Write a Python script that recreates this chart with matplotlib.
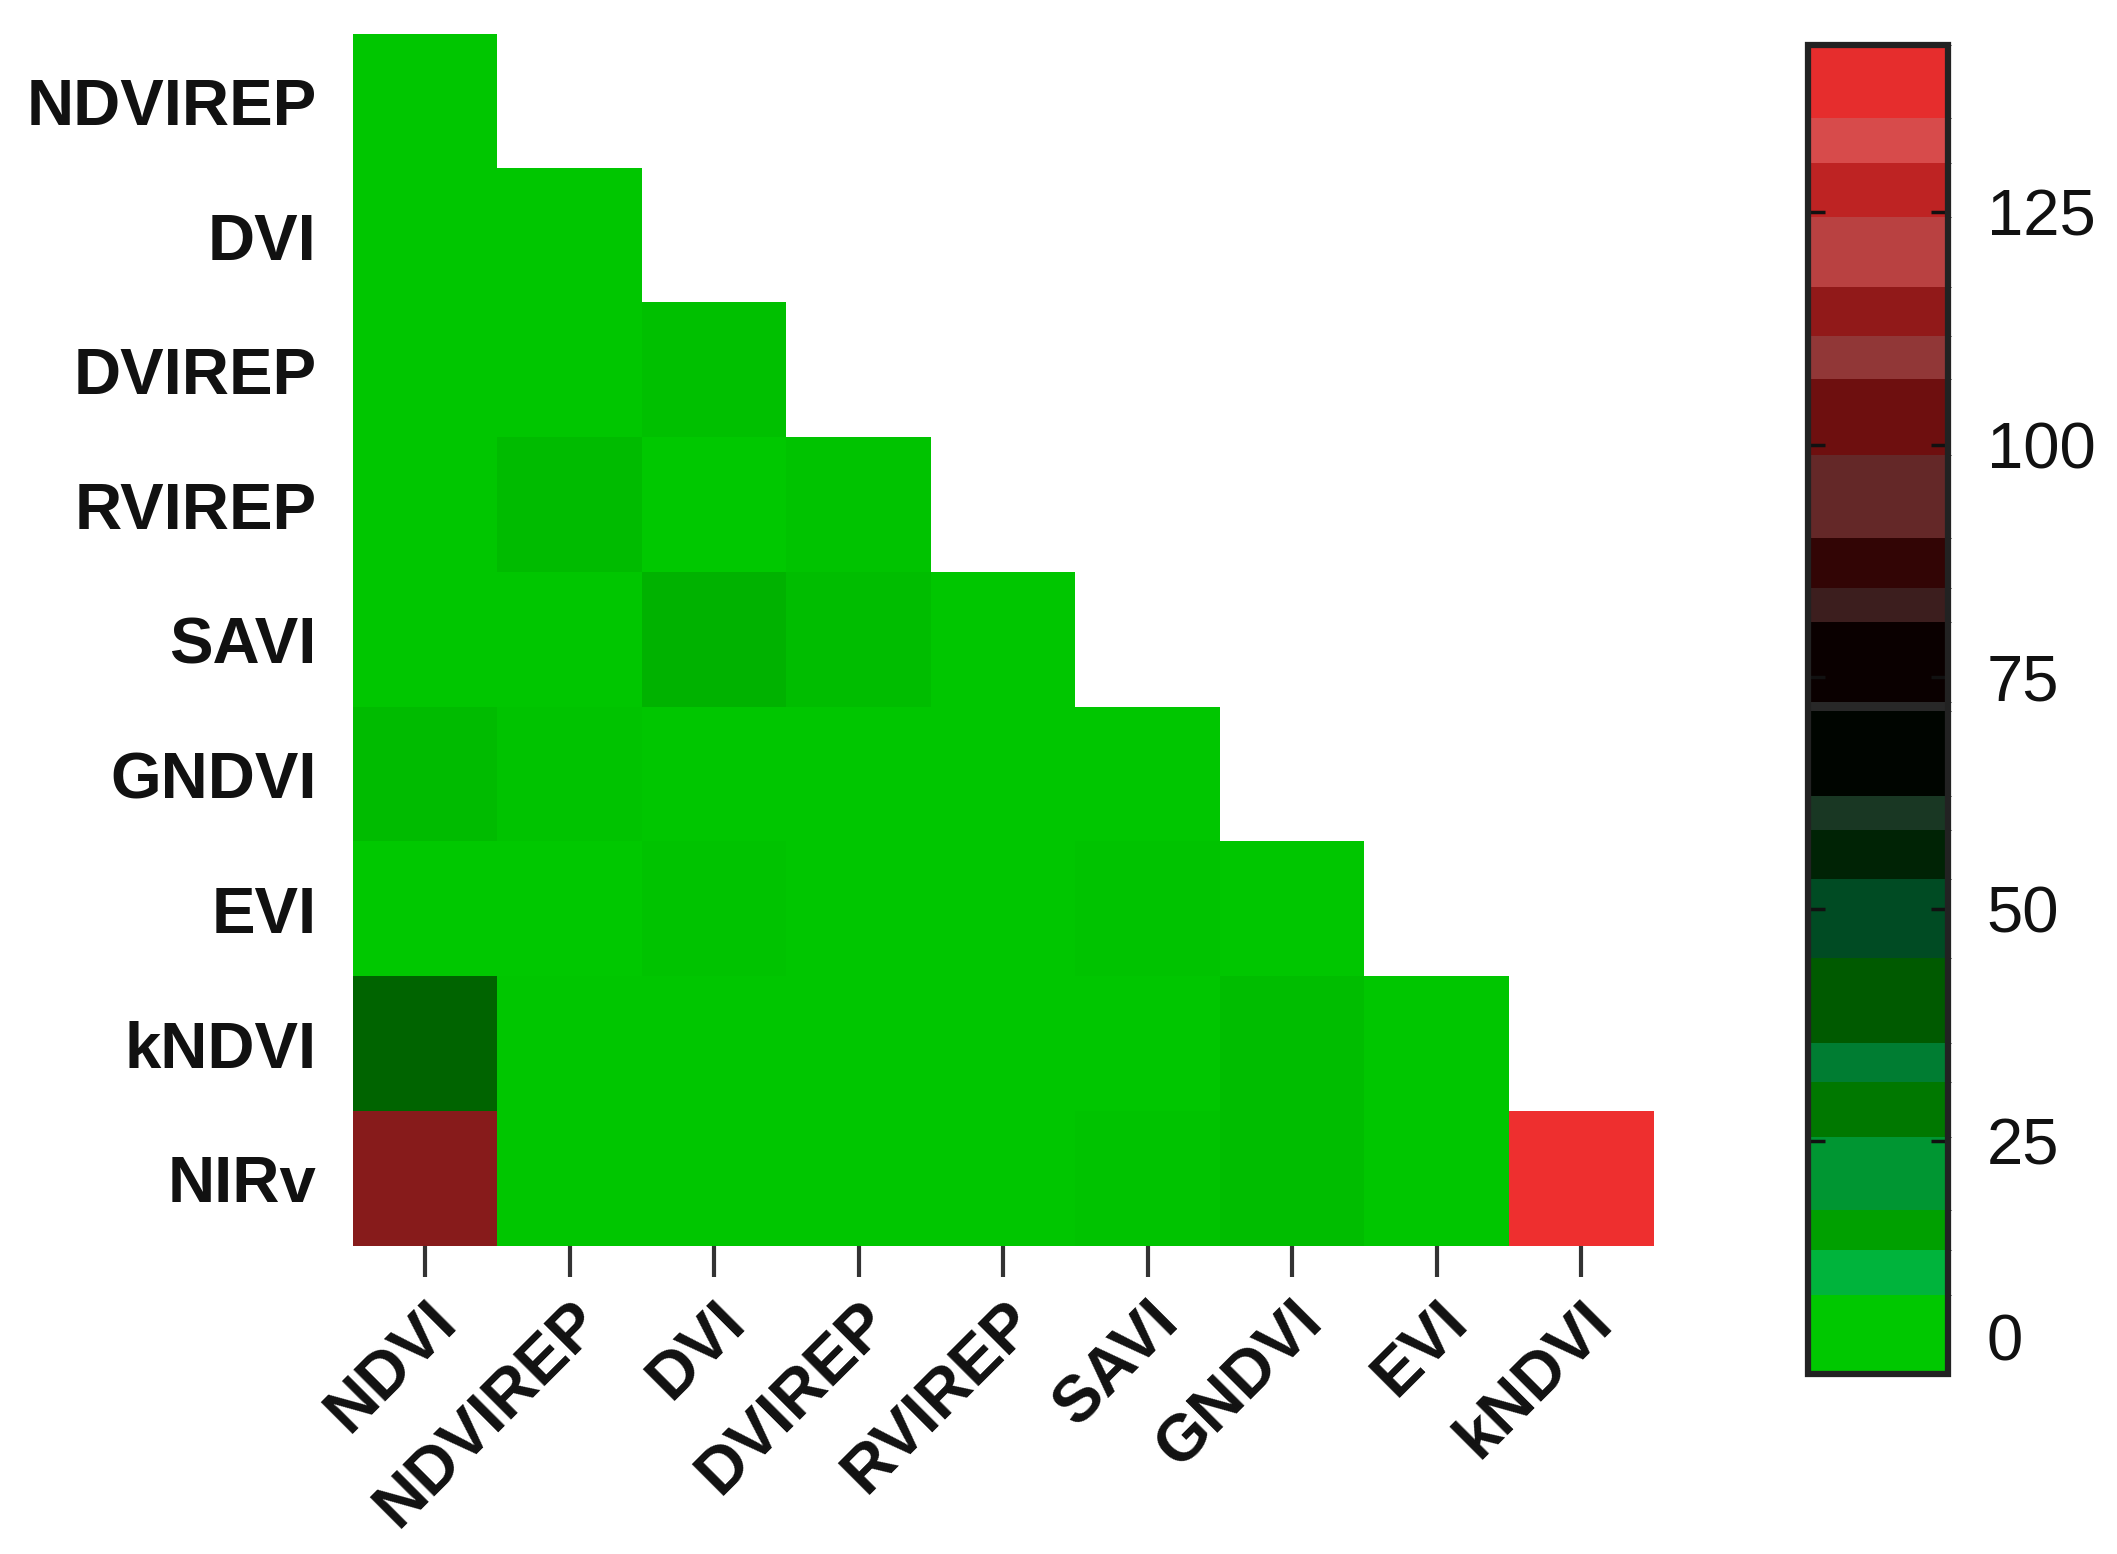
import matplotlib
matplotlib.use("Agg")
import matplotlib.pyplot as plt
import numpy as np
from matplotlib.colors import LinearSegmentedColormap, ListedColormap, BoundaryNorm, Normalize
from matplotlib.cm import ScalarMappable

ROWS = ["NDVIREP", "DVI", "DVIREP", "RVIREP", "SAVI", "GNDVI", "EVI", "kNDVI", "NIRv"]
COLS = ["NDVI", "NDVIREP", "DVI", "DVIREP", "RVIREP", "SAVI", "GNDVI", "EVI", "kNDVI"]

# lower triangle, row i holds columns 0..i
ROW_VALUES = [
    [1],
    [1, 1],
    [1, 1, 3],
    [1, 5, 0.5, 2],
    [1, 1, 8, 4, 1],
    [5, 2, 1, 1, 1, 1],
    [0.5, 0.5, 2, 1, 1, 2, 1],
    [36, 1, 1, 1, 1, 1, 4, 1],
    [112, 1, 1, 1, 1, 2, 4, 1, 142],
]

VMAX = 143
CBAR_TICKS = [0, 25, 50, 75, 100, 125]

# banded look of the colour bar in the reference
BAND_EDGES = [0, 8.5, 13.3, 17.6, 25.5, 31.4, 35.6, 44.7, 53.2, 58.5, 62.2, 71.3,
              72.3, 80.9, 84.6, 89.9, 98.9, 107.1, 111.7, 117, 124.5, 130.3, 135.1, 143]
BAND_COLORS = [
    (0, 200, 0), (0, 180, 60), (0, 160, 0), (0, 150, 50), (0, 120, 0),
    (0, 125, 50), (0, 90, 0), (0, 75, 35), (0, 35, 5), (25, 55, 35),
    (0, 5, 0), (40, 40, 40), (10, 0, 0), (60, 30, 30), (50, 5, 5),
    (100, 40, 40), (110, 15, 15), (145, 55, 55), (145, 25, 25), (185, 65, 65),
    (190, 35, 35), (215, 75, 75), (230, 45, 45),
]

INK = "#111111"
FONT = ["Liberation Sans", "DejaVu Sans"]

plt.rcParams["font.family"] = FONT

n = len(ROWS)
grid = np.full((n, len(COLS)), np.nan)
for i, vals in enumerate(ROW_VALUES):
    grid[i, :len(vals)] = vals
data = np.ma.masked_invalid(grid)

cell_cmap = LinearSegmentedColormap.from_list(
    "gbr", [(0.0, (0, 200 / 255, 0)), (72 / VMAX, (0, 0, 0)), (1.0, (240 / 255, 48 / 255, 48 / 255))])
cell_cmap.set_bad("white")

fig = plt.figure(figsize=(21.17, 15.54), dpi=100)
ax = fig.add_axes([0.1667, 0.198, 0.6143, 0.780])
ax.imshow(data, cmap=cell_cmap, norm=Normalize(0, VMAX), aspect="auto",
          interpolation="nearest")
for s in ax.spines.values():
    s.set_visible(False)
ax.set_xticks(range(len(COLS)))
ax.set_yticks(range(n))
ax.set_xticklabels(COLS, rotation=45, ha="right", rotation_mode="anchor",
                   fontsize=47, fontweight="bold", color=INK)
ax.set_yticklabels(ROWS, fontsize=47, fontweight="bold", color=INK)
ax.tick_params(axis="x", length=22, width=3, color="#333333", pad=10)
ax.tick_params(axis="y", length=0, pad=26)

cax = fig.add_axes([0.854, 0.116, 0.066, 0.855])
band_cmap = ListedColormap([tuple(c / 255 for c in rgb) for rgb in BAND_COLORS])
band_norm = BoundaryNorm(BAND_EDGES, band_cmap.N)
cb = fig.colorbar(ScalarMappable(norm=band_norm, cmap=band_cmap), cax=cax,
                  spacing="proportional", ticks=CBAR_TICKS)
cb.outline.set_linewidth(4.5)
cb.outline.set_edgecolor("#222222")
cax.set_yticklabels([str(t) for t in CBAR_TICKS], fontsize=47, color=INK)
cax.tick_params(axis="y", direction="in", left=True, right=True, length=12,
                width=2.5, color="#111111", pad=28)
# the "0" label sits just above the bottom edge in the reference
cax.get_yticklabels()[0].set_verticalalignment("bottom")

fig.savefig("out.png", dpi=100)
